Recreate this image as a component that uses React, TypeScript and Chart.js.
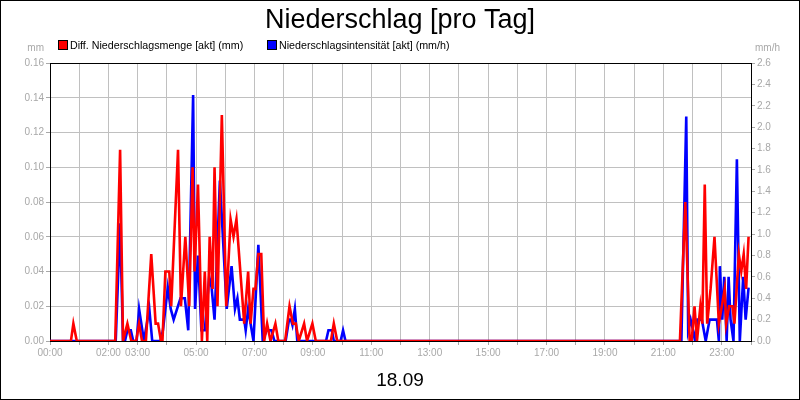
import React, { useEffect, useRef } from "react";
import { Chart, registerables } from "chart.js";
Chart.register(...registerables);

const FONT = '"Liberation Sans", Arial, sans-serif';

// minutes after midnight, 18.09
const redMinutes = [
  0, 43, 48, 55, 134, 144, 150, 159, 167, 177, 183, 189, 197, 208, 217, 222, 228, 231, 237, 245,
  249, 263, 269, 278, 286, 293, 297, 304, 312, 318, 323, 328, 334, 338, 344, 353, 362, 371, 377, 383,
  399, 407, 412, 418, 422, 428, 434, 440, 446, 453, 463, 469, 483, 492, 499, 505, 511, 522, 528, 539,
  546, 577, 583, 590, 1294, 1305, 1314, 1318, 1324, 1329, 1336, 1340, 1345, 1350, 1357, 1365, 1374,
  1386, 1389, 1395, 1402, 1406, 1415, 1420, 1425, 1430, 1435,
];
const redValues = [
  0, 0, 0.01, 0, 0, 0.11, 0, 0.01, 0, 0, 0.01, 0, 0, 0.05, 0.01, 0.01, 0, 0, 0.04, 0.04,
  0.02, 0.11, 0.02, 0.06, 0.02, 0.1, 0.04, 0.09, 0, 0.04, 0, 0.06, 0.03, 0.1, 0.02, 0.13, 0.02, 0.07, 0.06, 0.07,
  0.01, 0.04, 0.01, 0.03, 0.03, 0.05, 0.05, 0, 0.01, 0, 0.01, 0, 0, 0.02, 0.01, 0.01, 0, 0.01, 0, 0.01,
  0, 0, 0.01, 0, 0, 0.08, 0, 0, 0.02, 0, 0.02, 0.01, 0.09, 0.01, 0.03, 0.06, 0.01,
  0.03, 0.01, 0.02, 0.02, 0.01, 0.05, 0.04, 0.05, 0.03, 0.06,
];

const blueMinutes = [
  0, 135, 144, 150, 154, 159, 166, 171, 178, 183, 193, 204, 210, 227, 232, 242, 248, 254, 268, 277,
  284, 294, 298, 304, 311, 318, 327, 332, 338, 349, 363, 373, 380, 385, 390, 399, 402, 407, 418, 428,
  437, 445, 455, 461, 484, 491, 495, 498, 503, 508, 567, 572, 579, 583, 597, 602, 607,
  1297, 1307, 1311, 1316, 1321, 1325, 1330, 1339, 1347, 1355, 1370, 1374, 1376, 1381, 1385, 1390,
  1394, 1398, 1404, 1411, 1417, 1424, 1429, 1435,
];
const blueValues = [
  0, 0, 1.1, 0, 0, 0.1, 0.1, 0, 0, 0.3, 0, 0.3, 0, 0, 0.1, 0.5, 0.3, 0.2, 0.4, 0.4,
  0.1, 2.3, 0.3, 0.8, 0.1, 0.1, 0.6, 0.5, 0.2, 1.5, 0.3, 0.7, 0.3, 0.4, 0.2, 0.2, 0.1, 0.3, 0, 0.9,
  0, 0.1, 0.1, 0, 0, 0.2, 0.2, 0.15, 0.3, 0, 0, 0.1, 0.1, 0, 0, 0.1, 0,
  0, 2.1, 0.1, 0.2, 0.1, 0, 0.2, 0.2, 0, 0.2, 0.2, 0, 0.7, 0.2, 0.6, 0,
  0.6, 0.2, 0, 1.7, 0, 0.6, 0.2, 0.5,
];

const xTickLabels = [
  "00:00", "02:00", "03:00", "05:00", "07:00", "09:00", "11:00",
  "13:00", "15:00", "17:00", "19:00", "21:00", "23:00",
];

const titleText = "Niederschlag [pro Tag]";
const redLabel = "Diff. Niederschlagsmenge [akt] (mm)";
const blueLabel = "Niederschlagsintensität [akt] (mm/h)";
const dateText = "18.09";

const hhmm = (m: number) => {
  const h = Math.floor(m / 60);
  const mm = m % 60;
  return String(h).padStart(2, "0") + ":" + String(mm).padStart(2, "0");
};

const overlay = {
  id: "overlay",
  beforeDatasetsDraw(chart: any) {
    const { ctx, chartArea } = chart;
    ctx.save();
    ctx.strokeStyle = "#000";
    ctx.lineWidth = 1;
    ctx.beginPath();
    ctx.moveTo(chartArea.left, chartArea.top + 0.5);
    ctx.lineTo(chartArea.right, chartArea.top + 0.5);
    ctx.stroke();
    ctx.restore();
  },
  afterDraw(chart: any) {
    const { ctx } = chart;
    ctx.save();
    // title
    ctx.fillStyle = "#000";
    ctx.font = `27px ${FONT}`;
    ctx.textAlign = "center";
    ctx.textBaseline = "alphabetic";
    ctx.fillText(titleText, 400, 28);
    // legend
    ctx.font = `10.7px ${FONT}`;
    ctx.textAlign = "left";
    ctx.fillStyle = "#ff0000";
    ctx.fillRect(59, 41, 8, 8);
    ctx.strokeStyle = "#000";
    ctx.lineWidth = 1;
    ctx.strokeRect(58.5, 40.5, 9, 9);
    ctx.fillStyle = "#0000ff";
    ctx.fillRect(268, 41, 8, 8);
    ctx.strokeRect(267.5, 40.5, 9, 9);
    ctx.fillStyle = "#000";
    ctx.fillText(redLabel, 70, 49);
    ctx.fillText(blueLabel, 279, 49);
    // units
    ctx.fillStyle = "#a8a8a8";
    ctx.font = `10px ${FONT}`;
    ctx.textAlign = "right";
    ctx.fillText("mm", 44, 51);
    ctx.textAlign = "left";
    ctx.fillText("mm/h", 755, 51);
    // date
    ctx.fillStyle = "#000";
    ctx.font = `19px ${FONT}`;
    ctx.textAlign = "center";
    ctx.fillText(dateText, 400, 386);
    // frame
    ctx.strokeStyle = "#000";
    ctx.strokeRect(0.5, 0.5, 799, 399);
    ctx.restore();
  },
};

const ChartCanvas: React.FC = () => {
  const canvasRef = useRef<HTMLCanvasElement | null>(null);
  const chartRef = useRef<Chart | null>(null);

  useEffect(() => {
    if (!canvasRef.current) return;
    const redData = redMinutes.map((m, i) => ({ x: m, y: redValues[i] }));
    const blueData = blueMinutes.map((m, i) => ({ x: m, y: blueValues[i] }));
    const tickFont = { family: FONT, size: 10 };
    const grey = "#a8a8a8";
    const gridGrey = "#c0c0c0";

    chartRef.current = new Chart(canvasRef.current, {
      type: "line",
      data: {
        datasets: [
          {
            label: redLabel,
            data: redData,
            borderColor: "#ff0000",
            borderWidth: 2.6,
            pointRadius: 0,
            tension: 0,
            yAxisID: "y",
          },
          {
            label: blueLabel,
            data: blueData,
            borderColor: "#0000ff",
            borderWidth: 2.6,
            pointRadius: 0,
            tension: 0,
            yAxisID: "y1",
          },
        ],
      },
      options: {
        animation: false,
        responsive: false,
        devicePixelRatio: 1,
        layout: { padding: { top: 63, left: 0, right: 0, bottom: 0 } },
        plugins: {
          legend: { display: false },
          title: { display: false },
          tooltip: { enabled: false },
        },
        scales: {
          x: {
            type: "linear",
            min: 0,
            max: 1440,
            afterFit: (s: any) => {
              s.height = 59;
            },
            border: { color: "#000" },
            grid: { color: gridGrey, tickLength: 4, tickColor: grey },
            ticks: {
              stepSize: 60,
              autoSkip: false,
              maxRotation: 0,
              padding: 2,
              color: grey,
              font: tickFont,
              callback: (v: any) => {
                const label = hhmm(Number(v));
                return xTickLabels.includes(label) ? label : "";
              },
            },
          },
          y: {
            position: "left",
            min: 0,
            max: 0.16,
            afterFit: (s: any) => {
              s.width = 50;
            },
            border: { color: "#000" },
            grid: { color: gridGrey, tickLength: 4, tickColor: grey },
            ticks: {
              stepSize: 0.02,
              padding: 2,
              color: grey,
              font: tickFont,
              callback: (v: any) => Number(v).toFixed(2),
            },
          },
          y1: {
            position: "right",
            min: 0,
            max: 2.6,
            afterFit: (s: any) => {
              s.width = 49;
            },
            border: { color: "#000" },
            grid: { drawOnChartArea: false, tickLength: 4, tickColor: grey },
            ticks: {
              stepSize: 0.2,
              padding: 2,
              color: grey,
              font: tickFont,
              callback: (v: any) => Number(v).toFixed(1),
            },
          },
        },
      },
      plugins: [overlay],
    });

    return () => {
      if (chartRef.current) {
        chartRef.current.destroy();
      }
    };
  }, []);

  return (
    <div style={{ position: "fixed", left: 0, top: 0, width: 800, height: 400, background: "#fff" }}>
      <canvas ref={canvasRef} width={800} height={400} />
    </div>
  );
};

export default function App() {
  return <ChartCanvas />;
}
